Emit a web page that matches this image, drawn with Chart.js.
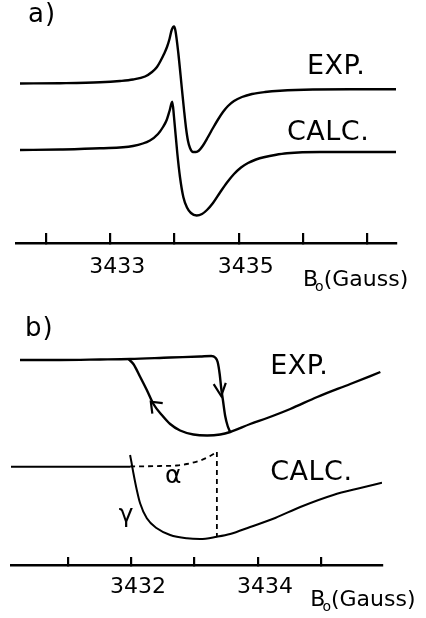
<!DOCTYPE html>
<html>
<head>
<meta charset="utf-8">
<script src="https://cdn.jsdelivr.net/npm/chart.js@4.4.1/dist/chart.umd.min.js"></script>
<style>
  html, body { margin: 0; padding: 0; background: #fff; }
  #wrap { position: relative; width: 426px; height: 618px; }
  canvas { position: absolute; left: 0; }
  #panelA { top: 0; }
  #panelB { top: 300px; }
</style>
</head>
<body>
<div id="wrap">
  <canvas id="panelA" width="426" height="300"></canvas>
  <canvas id="panelB" width="426" height="318"></canvas>
</div>
<script>
// ---- panel a : field B0 (Gauss) vs signal (arb. units) ----
const expA_B = [3431.595, 3432.218, 3432.840, 3433.152, 3433.354, 3433.541, 3433.650, 3433.727, 3433.790, 3433.836,
  3433.883, 3433.922, 3433.956, 3433.992, 3434.015, 3434.059, 3434.112, 3434.148, 3434.179, 3434.210,
  3434.241, 3434.288, 3434.334, 3434.381, 3434.443, 3434.521, 3434.599, 3434.677, 3434.754, 3434.832,
  3434.926, 3435.050, 3435.206, 3435.408, 3435.641, 3436.155, 3436.731, 3437.447];
const expA_S = [15.95, 15.98, 16.07, 16.20, 16.35, 16.65, 17.10, 17.60, 18.30, 18.90,
  19.60, 20.40, 21.30, 21.65, 21.20, 19.00, 15.60, 13.30, 11.50, 10.20,
  9.50, 9.10, 9.10, 9.25, 9.75, 10.60, 11.50, 12.35, 13.10, 13.70,
  14.20, 14.60, 14.90, 15.10, 15.23, 15.35, 15.37, 15.37];
const calcA_B = [3431.595, 3432.218, 3432.840, 3433.354, 3433.618, 3433.743, 3433.821, 3433.878, 3433.922, 3433.965,
  3433.992, 3434.043, 3434.085, 3434.137, 3434.194, 3434.256, 3434.345, 3434.428, 3434.505, 3434.599,
  3434.708, 3434.817, 3434.926, 3435.035, 3435.144, 3435.268, 3435.408, 3435.564, 3435.750, 3436.264, 3437.447];
const calcA_S = [9.30, 9.35, 9.47, 9.70, 10.25, 10.90, 11.60, 12.30, 13.20, 14.13,
  12.60, 9.00, 6.60, 4.60, 3.55, 3.00, 2.75, 2.90, 3.30, 4.00,
  5.05, 6.05, 6.90, 7.55, 8.00, 8.35, 8.60, 8.80, 8.97, 9.10, 9.10];
const ticksA = [3432, 3433, 3434, 3435, 3436, 3437];
const labelsA = [3433, 3435];

// ---- panel b ----
// upward sweep (flat, then sudden drop)
const expBup_B = [3430.248, 3430.879, 3431.511, 3431.984, 3432.616, 3433.089, 3433.263, 3433.326, 3433.365, 3433.397,
  3433.421, 3433.448, 3433.484, 3433.523, 3433.563];
const expBup_S = [20.5, 20.5, 20.55, 20.6, 20.75, 20.85, 20.9, 20.75, 20.3, 19.1,
  17.7, 16.5, 14.9, 13.9, 13.3];
// downward sweep (back to the left)
const expBdn_B = [3431.957, 3432.036, 3432.142, 3432.248, 3432.352, 3432.485, 3432.616, 3432.773, 3432.983, 3433.200,
  3433.405, 3433.563, 3433.878, 3434.147, 3434.510, 3434.936, 3435.457, 3435.931];
const expBdn_S = [20.6, 20.1, 18.83, 17.5, 16.1, 15.0, 14.1, 13.45, 13.05, 12.95,
  13.05, 13.3, 14.1, 14.7, 15.6, 16.8, 18.1, 19.3];
const calcBbase_B = [3430.106, 3431.984];
const calcBbase_S = [9.83, 9.83];
const gamma_B = [3431.984, 3432.008, 3432.036, 3432.090, 3432.142, 3432.248, 3432.406, 3432.616, 3432.879, 3433.089,
  3433.353, 3433.563, 3433.878, 3434.273, 3434.668, 3435.189, 3435.615, 3435.957];
const gamma_S = [11.0, 10.2, 9.2, 7.5, 6.17, 4.67, 3.67, 3.0, 2.67, 2.6,
  2.83, 3.1, 3.8, 4.7, 5.8, 7.0, 7.7, 8.23];
const alpha_B = [3431.984, 3432.458, 3432.721, 3432.879, 3433.089, 3433.247, 3433.353];
const alpha_S = [9.85, 9.9, 9.95, 10.1, 10.45, 10.9, 11.3];
const drop_B = [3433.353, 3433.353];
const drop_S = [11.3, 2.83];
const ticksB = [3431, 3432, 3433, 3434, 3435];
const labelsB = [3432, 3434];

const pts = (bs, ss) => bs.map((b, i) => ({ x: b, y: ss[i] }));
const FONT = '"DejaVu Sans"';

const notes = {
  id: 'notes',
  afterDatasetsDraw(chart, args, opts) {
    const { ctx, scales: { x, y } } = chart;
    ctx.save();
    ctx.fillStyle = '#000';
    ctx.strokeStyle = '#000';
    (opts.text || []).forEach(n => {
      ctx.font = (n.size || 27) + 'px ' + FONT;
      ctx.letterSpacing = (n.sp ?? 0.5) + 'px';
      ctx.textAlign = n.align || 'left';
      ctx.textBaseline = 'middle';
      ctx.fillText(n.t, x.getPixelForValue(n.b), y.getPixelForValue(n.s));
    });
    ctx.lineWidth = 2.2;
    (opts.arrows || []).forEach(a => {
      const tx = x.getPixelForValue(a.tip[0]), ty = y.getPixelForValue(a.tip[1]);
      const fx = x.getPixelForValue(a.from[0]), fy = y.getPixelForValue(a.from[1]);
      const ang = Math.atan2(fy - ty, fx - tx), L = a.len, w = a.half;
      ctx.beginPath();
      ctx.moveTo(tx + L * Math.cos(ang - w), ty + L * Math.sin(ang - w));
      ctx.lineTo(tx, ty);
      ctx.lineTo(tx + L * Math.cos(ang + w), ty + L * Math.sin(ang + w));
      ctx.stroke();
    });
    const t = opts.title;
    if (t) {
      let px = x.getPixelForValue(t.b);
      ctx.textAlign = 'left';
      ctx.textBaseline = 'alphabetic';
      ctx.letterSpacing = '0px';
      ctx.font = '22px ' + FONT;
      ctx.fillText('B', px, t.y);
      px += ctx.measureText('B').width;
      ctx.font = '14px ' + FONT;
      ctx.fillText('o', px - 3, t.y + 5);
      px += ctx.measureText('o').width - 3;
      ctx.font = '22px ' + FONT;
      ctx.fillText('(Gauss)', px, t.y);
    }
    ctx.restore();
  }
};

function line(data, extra) {
  return Object.assign({
    data, showLine: true, borderColor: '#000', borderWidth: 2.4, pointRadius: 0,
    cubicInterpolationMode: 'monotone', fill: false
  }, extra || {});
}

function panel(id, cfg) {
  return new Chart(document.getElementById(id), {
    type: 'scatter',
    data: { datasets: cfg.datasets },
    options: {
      responsive: false, animation: false,
      layout: { padding: cfg.pad },
      plugins: { legend: { display: false }, tooltip: { enabled: false }, notes: cfg.notes },
      scales: {
        x: {
          type: 'linear', min: cfg.min, max: cfg.max,
          afterBuildTicks: s => { s.ticks = cfg.ticks.map(v => ({ value: v })); },
          afterFit: s => { s.height = cfg.axisH; },
          grid: { drawOnChartArea: false, drawTicks: true, tickLength: -cfg.tickLen, color: '#000', lineWidth: 2.2 },
          border: { display: true, color: '#000', width: 2.4 },
          ticks: {
            padding: cfg.labelPad, labelOffset: 7, color: '#000', autoSkip: false, maxRotation: 0,
            font: { family: 'DejaVu Sans', size: 22 },
            callback: v => cfg.labels.includes(v) ? String(v) : ''
          }
        },
        y: { display: false, min: 0, max: cfg.ymax }
      }
    },
    plugins: [notes]
  });
}

panel('panelA', {
  min: 3431.533, max: 3437.447, ymax: 24.3, ticks: ticksA, labels: labelsA,
  pad: { left: 16, right: 30, top: 0, bottom: 0 }, axisH: 57, tickLen: 10, labelPad: 21,
  datasets: [
    line(pts(expA_B, expA_S)),
    line(pts(calcA_B, calcA_S))
  ],
  notes: {
    text: [
      { t: 'a)', b: 3431.72, s: 22.8, size: 26, sp: 1 },
      { t: 'EXP.', b: 3436.062, s: 17.6 },
      { t: 'CALC.', b: 3435.750, s: 11.0 }
    ],
    title: { b: 3436.0, y: 286 }
  }
});

panel('panelB', {
  min: 3430.106, max: 3435.957, ymax: 26.5, ticks: ticksB, labels: labelsB,
  pad: { left: 11, right: 44, top: 0, bottom: 0 }, axisH: 53, tickLen: 8, labelPad: 17,
  datasets: [
    line(pts(expBup_B, expBup_S)),
    line(pts(expBdn_B, expBdn_S)),
    line(pts(calcBbase_B, calcBbase_S), { borderWidth: 2 }),
    line(pts(gamma_B, gamma_S), { borderWidth: 2 }),
    line(pts(alpha_B, alpha_S), { borderWidth: 1.8, borderDash: [5, 4] }),
    line(pts(drop_B, drop_S), { borderWidth: 1.8, borderDash: [5, 4], cubicInterpolationMode: 'default' })
  ],
  notes: {
    text: [
      { t: 'b)', b: 3430.327, s: 23.6, size: 26, sp: 1 },
      { t: 'EXP.', b: 3434.194, s: 19.83 },
      { t: 'CALC.', b: 3434.194, s: 9.17 },
      { t: 'α', b: 3432.663, s: 8.83, size: 25, sp: 0, align: 'center' },
      { t: 'γ', b: 3431.921, s: 5.0, size: 25, sp: 0, align: 'center' }
    ],
    arrows: [
      { tip: [3433.421, 16.9], from: [3433.397, 18.2], len: 14, half: 0.45 },
      { tip: [3432.311, 16.33], from: [3432.458, 15.4], len: 12, half: 0.66 }
    ],
    title: { b: 3434.826, y: 306 }
  }
});
</script>
</body>
</html>
